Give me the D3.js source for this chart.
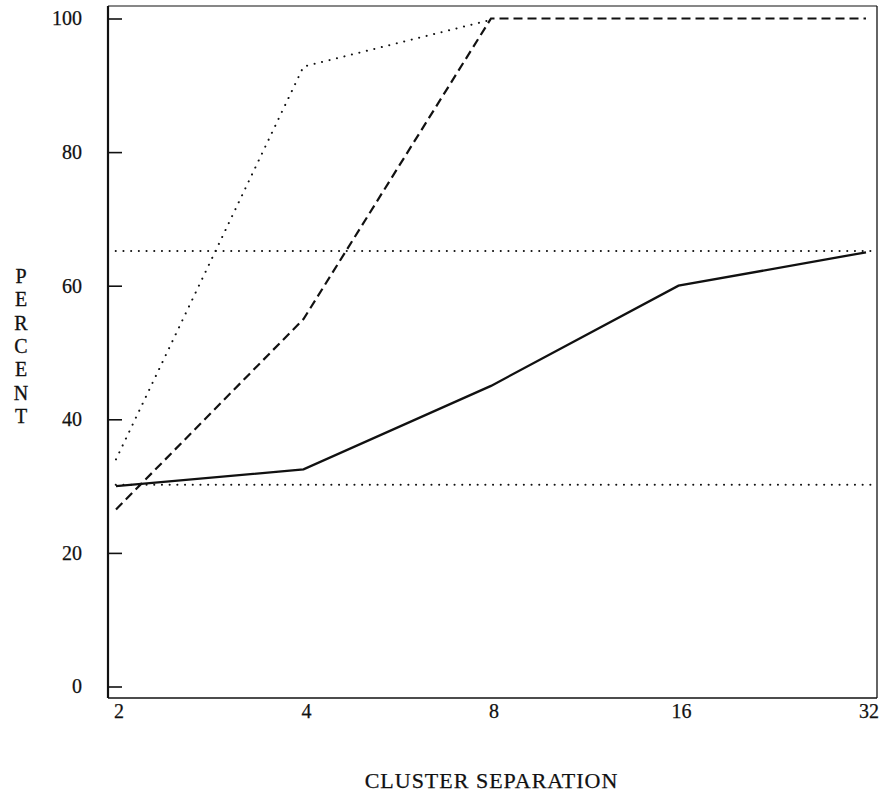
<!DOCTYPE html>
<html><head><meta charset="utf-8">
<script src="https://cdn.jsdelivr.net/npm/d3@7"></script>
<style>
html,body{margin:0;padding:0;background:#fff;}
svg{display:block;font-family:"Liberation Serif","Times New Roman",serif;}
</style></head>
<body>
<svg id="c" width="883" height="795"></svg>
<script>
const separations = [2, 4, 8, 16, 32];
const solidSeries = [30, 32.5, 45, 60, 65];
const dashedSeries = [26.5, 55, 100, 100, 100];
const dottedSeries = [34, 92.8, 99.8];
const dottedX = [2, 4, 8];
const referenceLevels = [30.2, 65.2];
const yTicks = [0, 20, 40, 60, 80, 100];
const xLabel = "CLUSTER SEPARATION";
const yLabel = "PERCENT";

const svg = d3.select("#c");
const frame = {left: 108, right: 877, top: 6, bottom: 698};

const x = d3.scaleLog().base(2).domain([2, 32]).range([116, 866]);
const y = d3.scaleLinear().domain([0, 100]).range([686.5, 18.5]);

// frame
svg.append("line").attr("x1", frame.left).attr("x2", frame.right).attr("y1", frame.top).attr("y2", frame.top)
  .attr("stroke", "#111").attr("stroke-width", 1.2);
svg.append("line").attr("x1", frame.right).attr("x2", frame.right).attr("y1", frame.top).attr("y2", frame.bottom)
  .attr("stroke", "#111").attr("stroke-width", 1.3);
svg.append("line").attr("x1", frame.left).attr("x2", frame.right).attr("y1", frame.bottom).attr("y2", frame.bottom)
  .attr("stroke", "#111").attr("stroke-width", 1.7);
svg.append("line").attr("x1", frame.left).attr("x2", frame.left).attr("y1", frame.top).attr("y2", frame.bottom)
  .attr("stroke", "#111").attr("stroke-width", 2.2);

// y axis
const yAxis = svg.append("g").attr("transform", `translate(${frame.left},0)`)
  .call(d3.axisLeft(y).tickValues(yTicks).tickSizeInner(-14).tickSizeOuter(0).tickPadding(26));
yAxis.select(".domain").remove();
yAxis.selectAll("line").attr("stroke", "#111").attr("stroke-width", 1.6);
yAxis.selectAll("text").attr("font-size", 20).attr("fill", "#111")
  .attr("stroke", "#111").attr("stroke-width", 0.25)
  .attr("font-family", "Liberation Serif, serif");

// x axis
const xAxis = svg.append("g").attr("transform", `translate(0,${frame.bottom})`)
  .call(d3.axisBottom(x).tickValues(separations).tickFormat(d3.format("d")).tickSize(0).tickPadding(6));
xAxis.select(".domain").remove();
xAxis.selectAll("text").attr("font-size", 20).attr("fill", "#111").attr("dx", 2.5)
  .attr("stroke", "#111").attr("stroke-width", 0.25)
  .attr("font-family", "Liberation Serif, serif");

// reference dotted lines
svg.selectAll(".ref").data(referenceLevels).enter().append("line")
  .attr("x1", frame.left).attr("x2", frame.right)
  .attr("y1", d => y(d)).attr("y2", d => y(d))
  .attr("stroke", "#111").attr("stroke-width", 2)
  .attr("stroke-linecap", "round").attr("stroke-dasharray", "0.1,7.6");

const line = d3.line().x(d => x(d[0])).y(d => y(d[1]));

svg.append("path").datum(d3.zip(dottedX, dottedSeries))
  .attr("d", line).attr("fill", "none").attr("stroke", "#111").attr("stroke-width", 2)
  .attr("stroke-linecap", "round").attr("stroke-dasharray", "0.1,7.6");

svg.append("path").datum(d3.zip(separations, dashedSeries))
  .attr("d", line).attr("fill", "none").attr("stroke", "#111").attr("stroke-width", 2.2)
  .attr("stroke-dasharray", "9,5");

svg.append("path").datum(d3.zip(separations, solidSeries))
  .attr("d", line).attr("fill", "none").attr("stroke", "#111").attr("stroke-width", 2.3);

// axis titles
svg.append("text").attr("x", (frame.left + frame.right) / 2 - 1).attr("y", 788)
  .attr("text-anchor", "middle").attr("font-size", 22).attr("letter-spacing", 1)
  .attr("fill", "#111").attr("stroke", "#111").attr("stroke-width", 0.25).text(xLabel);

svg.append("text").attr("x", 20).attr("y", 283).attr("text-anchor", "middle")
  .attr("font-size", 20).attr("fill", "#111").attr("stroke", "#111").attr("stroke-width", 0.3)
  .selectAll("tspan").data(yLabel.split("")).enter().append("tspan")
  .attr("x", 21).attr("dy", (d, i) => i === 0 ? 0 : 23.3).text(d => d);
</script>
</body></html>
